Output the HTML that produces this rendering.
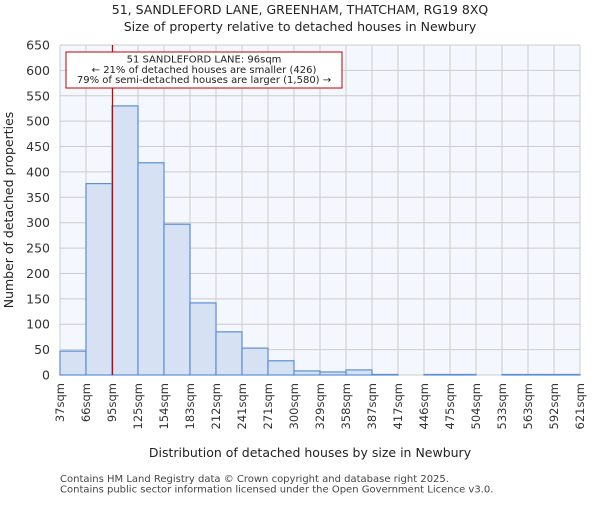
<!DOCTYPE html>
<html><head><meta charset="utf-8"><style>body{margin:0;background:#fff}svg{font-family:"DejaVu Sans","Liberation Sans",sans-serif}</style></head>
<body>
<svg id="c" width="600" height="500"></svg>
<script>
const tickLabels=["37sqm","66sqm","95sqm","125sqm","154sqm","183sqm","212sqm","241sqm","271sqm","300sqm","329sqm","358sqm","387sqm","417sqm","446sqm","475sqm","504sqm","533sqm","563sqm","592sqm","621sqm"];
const binStart=37, binEnd=621;
const counts=[47,377,530,418,297,142,85,53,28,8,6,10,1,0,1,1,0,1,1,1];
const yTicks=[0,50,100,150,200,250,300,350,400,450,500,550,600,650];
const propValue=96;
const NS="http://www.w3.org/2000/svg";
const svg=document.getElementById('c');
const L=60,R=580,T=45,B=375;
const x=v=>L+(v-binStart)/(binEnd-binStart)*(R-L);
const y=v=>B-v/650*(B-T);
function el(t,a,p){const e=document.createElementNS(NS,t);for(const k in a)e.setAttribute(k,a[k]);(p||svg).appendChild(e);return e;}
const bg=el('rect',{x:L,y:T,width:R-L,height:B-T,fill:'#f4f7fd'});


const bw=(binEnd-binStart)/counts.length;
tickLabels.forEach((t,i)=>{const v=binStart+i*bw;const g=el('line',{x1:x(v),x2:x(v),y1:T,y2:B,stroke:'#cccccc','stroke-width':1});


const tx=el('text',{x:0,y:0,transform:`translate(${x(v)+4},${B+8}) rotate(-90)`,'text-anchor':'end','font-size':11.5,fill:'#333'});tx.textContent=t;

});
yTicks.forEach(t=>{const g=el('line',{x1:L,x2:R,y1:y(t),y2:y(t),stroke:'#cccccc','stroke-width':1});


const tx=el('text',{x:L-10,y:y(t)+4.5,'text-anchor':'end','font-size':12.5,fill:'#333'});tx.textContent=t;

});
counts.forEach((c,i)=>{const x0=x(binStart+i*bw),x1=x(binStart+(i+1)*bw);
const r=el('rect',{x:x0,y:y(c),width:x1-x0,height:B-y(c),fill:'#d6e2f4',stroke:'#5b8fd4','stroke-width':1.2});

});
const ml=el('line',{x1:x(propValue),x2:x(propValue),y1:T,y2:B,stroke:'#d00000','stroke-width':1.2});


const ab=el('rect',{x:66,y:52,width:276,height:36,fill:'#fff',stroke:'#c00000','stroke-width':1});


["51 SANDLEFORD LANE: 96sqm","← 21% of detached houses are smaller (426)","79% of semi-detached houses are larger (1,580) →"].forEach((s,i)=>{const t=el('text',{x:204,y:62.5+i*10.3,'text-anchor':'middle','font-size':10,fill:'#222'});t.textContent=s;

});
function txt(s,a,n){const t=el('text',a);t.textContent=s;return t;}
txt("51, SANDLEFORD LANE, GREENHAM, THATCHAM, RG19 8XQ",{x:300,y:14,'text-anchor':'middle','font-size':12.5,fill:'#222'},'chart-title');
txt("Size of property relative to detached houses in Newbury",{x:300,y:31,'text-anchor':'middle','font-size':12.5,fill:'#222'},'chart-subtitle');
txt("Distribution of detached houses by size in Newbury",{x:310,y:457,'text-anchor':'middle','font-size':12.5,fill:'#222'},'x-axis-title');
txt("Number of detached properties",{x:0,y:0,transform:'translate(13,210) rotate(-90)','text-anchor':'middle','font-size':12.5,fill:'#222'},'y-axis-title');
txt("Contains HM Land Registry data © Crown copyright and database right 2025.",{x:60,y:482,'font-size':10,fill:'#444'},'footer-line-1');
txt("Contains public sector information licensed under the Open Government Licence v3.0.",{x:60,y:492.5,'font-size':10,fill:'#444'},'footer-line-2');
</script>
</body></html>
